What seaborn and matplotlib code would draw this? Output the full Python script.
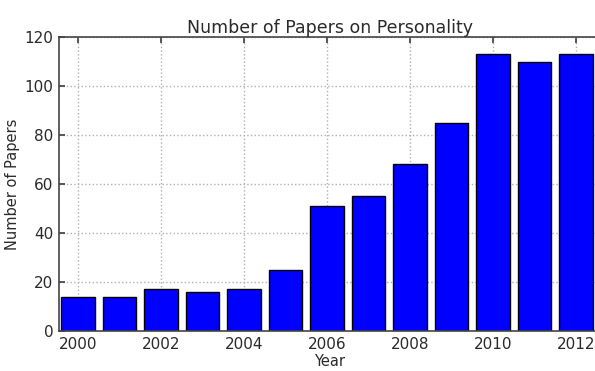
import matplotlib
matplotlib.use("Agg")
import matplotlib.pyplot as plt
import seaborn as sns
import pandas as pd

years = [2000, 2001, 2002, 2003, 2004, 2005, 2006, 2007, 2008, 2009, 2010, 2011, 2012]
papers = [14, 14, 17, 16, 17, 25, 51, 55, 68, 85, 113, 110, 113]
xticks = [2000, 2002, 2004, 2006, 2008, 2010, 2012]
yticks = [0, 20, 40, 60, 80, 100, 120]

sns.set_theme(style="white")
plt.rcParams['font.family'] = ['DejaVu Sans']
text_color = '#2a2a2a'

df = pd.DataFrame({"Year": years, "Papers": papers})

fig = plt.figure(figsize=(5.95, 3.71), dpi=100)
ax = fig.add_axes([59 / 595, 40 / 371, 542 / 595, 294 / 371])

sns.barplot(data=df, x="Year", y="Papers", native_scale=True, color="#0000ff",
            saturation=1, edgecolor="black", linewidth=1.0, width=0.8, ax=ax)

ax.set_xlim(1999.54, 2012.6)
ax.set_ylim(0, 120)
ax.set_xticks(xticks)
ax.set_xticklabels([str(t) for t in xticks])
ax.set_yticks(yticks)
ax.set_axisbelow(True)
ax.grid(True, linestyle=':', color='#b0b0b0', linewidth=1.0)

for s in ax.spines.values():
    s.set_color('#444444')
    s.set_linewidth(1.2)

ax.tick_params(direction='in', length=4, color='#444444', labelsize=11,
               labelcolor=text_color, top=True, right=True, bottom=True, left=True, pad=4)

ax.set_title("Number of Papers on Personality", fontsize=12.5, color=text_color, pad=3)
ax.set_xlabel("Year", fontsize=10.5, color=text_color, labelpad=2)
ax.set_ylabel("Number of Papers", fontsize=10.5, color=text_color, labelpad=3)

fig.savefig("out.png", dpi=100)
